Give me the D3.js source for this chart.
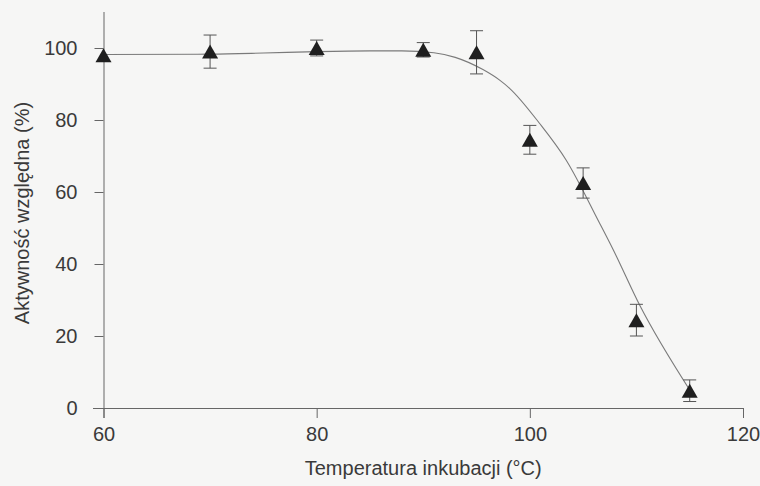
<!DOCTYPE html>
<html>
<head>
<meta charset="utf-8">
<script src="https://cdn.jsdelivr.net/npm/d3@7"></script>
<style>
  html, body { margin: 0; padding: 0; background: #f6f6f5; }
  svg { display: block; }
  text { font-family: "Liberation Sans", Arial, sans-serif; fill: #3a3a3a; }
</style>
</head>
<body>
<svg id="chart" width="760" height="486"></svg>
<script>
// Measured data (temperature °C, relative activity %, error)
const temps = [60, 70, 80, 90, 95, 100, 105, 110, 115];
const activity = [98, 99, 100, 99.5, 98.8, 74.5, 62.5, 24.4, 4.8];
const errors = [0, 4.6, 2.2, 2.0, 6.0, 4.0, 4.2, 4.4, 3.0];

// Fitted curve
const curveT = [60, 70, 75, 80, 85, 88, 91, 93, 95.6, 97.2, 98.1, 100.9, 103.4, 106.5, 107.8, 110.3, 115];
const curveV = [98.2, 98.3, 98.6, 99.0, 99.2, 99.2, 98.7, 97.4, 94.0, 91.0, 88.8, 79.1, 68.9, 51.6, 44.1, 28.6, 5.0];

const xTicks = [60, 80, 100, 120];
const yTicks = [0, 20, 40, 60, 80, 100];
const xTitle = "Temperatura inkubacji (°C)";
const yTitle = "Aktywność względna (%)";

const svg = d3.select("#chart");
const axisColor = "#666";

const x = d3.scaleLinear().domain([60, 120]).range([103.5, 743]);
const y = d3.scaleLinear().domain([0, 110]).range([408, 12]);

// X axis
const gx = svg.append("g").attr("transform", `translate(0,${y(0)})`)
  .call(d3.axisBottom(x).tickValues(xTicks).tickSize(10).tickPadding(9).tickSizeOuter(0));
gx.select(".domain").attr("stroke", axisColor).attr("d", `M${x(60) - 10.5},0.5H${x(120)}`);
gx.selectAll(".tick line").attr("stroke", axisColor);
gx.selectAll(".tick text").attr("font-size", 20).attr("fill", "#3a3a3a")
  .attr("font-family", "Liberation Sans, Arial, sans-serif");

// Y axis
const gy = svg.append("g").attr("transform", `translate(${x(60)},0)`)
  .call(d3.axisLeft(y).tickValues(yTicks).tickSize(9).tickPadding(17).tickSizeOuter(0));
gy.select(".domain").attr("stroke", axisColor).attr("d", `M0.5,${y(0) + 10}V${y(110)}`);
gy.selectAll(".tick line").attr("stroke", axisColor);
gy.selectAll(".tick text").attr("font-size", 20).attr("fill", "#3a3a3a")
  .attr("font-family", "Liberation Sans, Arial, sans-serif");

// Curve
const pts = curveT.map((t, i) => [t, curveV[i]]);
svg.append("path")
  .datum(pts)
  .attr("fill", "none")
  .attr("stroke", "#7a7a7a")
  .attr("stroke-width", 1.1)
  .attr("d", d3.line().x(d => x(d[0])).y(d => y(d[1])).curve(d3.curveMonotoneX));

// Error bars
const data = temps.map((t, i) => ({t, v: activity[i], e: errors[i]}));
const eb = svg.append("g").attr("stroke", "#555").attr("stroke-width", 1);
data.filter(d => d.e > 0).forEach(d => {
  const cx = x(d.t);
  eb.append("line").attr("x1", cx).attr("x2", cx).attr("y1", y(d.v + d.e)).attr("y2", y(d.v - d.e));
  eb.append("line").attr("x1", cx - 6.5).attr("x2", cx + 6.5).attr("y1", y(d.v + d.e)).attr("y2", y(d.v + d.e));
  eb.append("line").attr("x1", cx - 6.5).attr("x2", cx + 6.5).attr("y1", y(d.v - d.e)).attr("y2", y(d.v - d.e));
});

// Triangle markers (bounding-box centred)
svg.append("g").selectAll("path").data(data).join("path")
  .attr("fill", "#1f1f1f")
  .attr("d", d => {
    const cx = x(d.t), cy = y(d.v);
    return `M${cx},${cy - 7}L${cx + 8},${cy + 7}L${cx - 8},${cy + 7}Z`;
  });

// Axis titles
svg.append("text")
  .attr("x", (x(60) + x(120)) / 2)
  .attr("y", 475)
  .attr("text-anchor", "middle")
  .attr("font-size", 20)
  .text(xTitle);

svg.append("text")
  .attr("transform", `translate(29,213) rotate(-90)`)
  .attr("text-anchor", "middle")
  .attr("font-size", 20)
  .text(yTitle);
</script>
</body>
</html>
